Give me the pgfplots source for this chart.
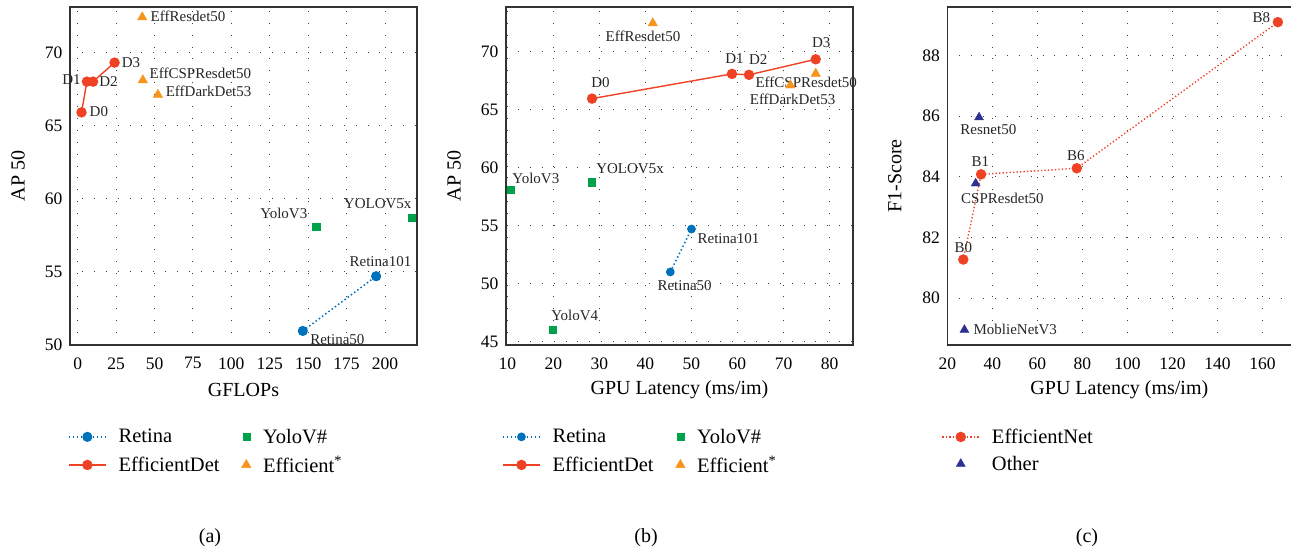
\documentclass[border=0pt]{standalone}
\usepackage{pgfplots}
\pgfplotsset{compat=1.18}
\usepackage{fontspec}
\setmainfont{Liberation Serif}

\definecolor{retinablue}{HTML}{0072BC}
\definecolor{yologreen}{HTML}{00A14B}
\definecolor{detred}{HTML}{EF4123}
\definecolor{efforange}{HTML}{F7941D}
\definecolor{othernavy}{HTML}{2E3192}
\definecolor{framegray}{HTML}{333333}

\newcommand{\tickfont}{\fontsize{17.5}{18}\selectfont}
\newcommand{\labfont}{\fontsize{20}{22}\selectfont}
\newcommand{\ptfont}{\fontsize{15}{16}\selectfont}
\newcommand{\legfont}{\fontsize{20.5}{22}\selectfont}

\tikzset{ptlabel/.style={font=\ptfont, inner sep=0pt, text=black!85}}

\pgfplotsset{
  panel/.style={
    scale only axis, anchor=south west, height=338pt,
    axis line style={draw=framegray, line width=1.1pt},
    major tick length=0pt,
    grid=major,
    grid style={black!75, line width=0.9pt, dash pattern=on 0.9pt off 11pt},
    tick label style={font=\tickfont},
    /pgf/number format/assume math mode=true,
    xticklabel style={yshift=-9pt},
    yticklabel style={xshift=-4pt},
    label style={font=\labfont},
    xlabel style={at={(axis description cs:0.5,-0.133)}, anchor=center},
    ylabel style={at={(axis description cs:-0.15,0.5)}, anchor=center},
    clip=false,
    legend cell align=left,
    legend style={draw=none, fill=none, font=\legfont, inner sep=0pt,
      anchor=north west, row sep=9pt,
      nodes={inner xsep=12pt, inner ysep=1pt},
      /tikz/every even column/.append style={column sep=10pt}},
  },
  wide legend/.style={legend image code/.code={\draw[mark repeat=2,mark phase=2,##1] plot coordinates {(0pt,0pt) (18.5pt,0pt) (37pt,0pt)};}},
  narrow legend/.style={legend image code/.code={\draw[mark repeat=2,mark phase=2,##1] plot coordinates {(0pt,0pt) (6pt,0pt) (12pt,0pt)};}},
}

\begin{document}
\begin{tikzpicture}
\path[use as bounding box] (0pt,0pt) rectangle (1291pt,552pt);

% (a) AP50 against GFLOPs
\begin{axis}[panel, at={(70pt,207pt)}, width=347pt,
  xmin=-5, xmax=220.8, ymin=50, ymax=73.1,
  xtick={0,25,...,200}, ytick={50,55,...,70},
  xlabel={GFLOPs}, ylabel={AP 50},
  legend columns=2,
  legend style={at={(axis description cs:-0.006,-0.245)}}]
\addplot[wide legend, retinablue, line width=1.5pt, dash pattern=on 1.5pt off 2.5pt,
  mark=*, mark size=4.3pt, mark options={solid}]
  coordinates {(146.5,50.96) (194.2,54.7)};
\addlegendentry{Retina}
\addplot[narrow legend, only marks, yologreen, mark=square*, mark size=3.6pt]
  coordinates {(155.2,58.07) (217.5,58.7)};
\addlegendentry{YoloV\#}
\addplot[wide legend, detred, line width=1.4pt, mark=*, mark size=4.5pt]
  coordinates {(2.5,65.9) (6,68) (10,68) (24,69.3)};
\addlegendentry{EfficientDet}
\addplot[narrow legend, only marks, efforange, mark=triangle*, mark size=5.5pt]
  coordinates {(42,72.4) (42.4,68.1) (52.2,67.1)};
\addlegendentry{Efficient\textsuperscript{*}}
\node[ptlabel, anchor=west, xshift=8pt, yshift=1pt] at (axis cs:2.5,65.9) {D0};
\node[ptlabel, anchor=east, xshift=-6pt, yshift=1.7pt] at (axis cs:6,68) {D1};
\node[ptlabel, anchor=west, xshift=6pt] at (axis cs:10,68) {D2};
\node[ptlabel, anchor=west, xshift=7pt] at (axis cs:24,69.3) {D3};
\node[ptlabel, anchor=west, xshift=8.3pt, yshift=1pt] at (axis cs:42,72.4) {EffResdet50};
\node[ptlabel, anchor=west, xshift=6.7pt, yshift=7.3pt] at (axis cs:42.4,68.1) {EffCSPResdet50};
\node[ptlabel, anchor=west, xshift=7.7pt, yshift=3.3pt] at (axis cs:52.2,67.1) {EffDarkDet53};
\node[ptlabel, anchor=east, xshift=-8.7pt, yshift=13.3pt] at (axis cs:155.2,58.07) {YoloV3};
\node[ptlabel, anchor=east, xshift=-0.3pt, yshift=14pt] at (axis cs:217.5,58.7) {YOLOV5x};
\node[ptlabel, xshift=4.3pt, yshift=14.4pt] at (axis cs:194.2,54.7) {Retina101};
\node[ptlabel, anchor=west, xshift=7.3pt, yshift=-8.3pt] at (axis cs:146.5,50.96) {Retina50};
\end{axis}

% (b) AP50 against GPU latency
\begin{axis}[panel, at={(506pt,207pt)}, width=347pt,
  xmin=9.7, xmax=85.1, ymin=44.7, ymax=73.85,
  xtick={10,20,...,80}, ytick={45,50,...,70},
  xlabel={GPU Latency (ms/im)}, ylabel={AP 50},
  legend columns=2,
  legend style={at={(axis description cs:-0.0115,-0.245)}}]
\addplot[wide legend, retinablue, line width=1.5pt, dash pattern=on 1.5pt off 2.5pt,
  mark=*, mark size=3.6pt, mark options={solid}]
  coordinates {(45.4,51.0) (50,54.7)};
\addlegendentry{Retina}
\addplot[narrow legend, only marks, yologreen, mark=square*, mark size=3.6pt]
  coordinates {(10.8,58.1) (28.4,58.74) (19.9,46.03)};
\addlegendentry{YoloV\#}
\addplot[wide legend, detred, line width=1.4pt, mark=*, mark size=4.5pt]
  coordinates {(28.4,65.95) (58.8,68.08) (62.5,68) (77,69.34)};
\addlegendentry{EfficientDet}
\addplot[narrow legend, only marks, efforange, mark=triangle*, mark size=5.5pt]
  coordinates {(41.6,72.45) (77,68.1) (71.5,67.1)};
\addlegendentry{Efficient\textsuperscript{*}}
\node[ptlabel, xshift=-9.8pt, yshift=-13.4pt] at (axis cs:41.6,72.45) {EffResdet50};
\node[ptlabel, xshift=8.5pt, yshift=16pt] at (axis cs:28.4,65.95) {D0};
\node[ptlabel, xshift=2.5pt, yshift=15.7pt] at (axis cs:58.8,68.08) {D1};
\node[ptlabel, xshift=9.3pt, yshift=15.7pt] at (axis cs:62.5,68) {D2};
\node[ptlabel, xshift=5.6pt, yshift=16.6pt] at (axis cs:77,69.34) {D3};
\node[ptlabel, xshift=-9.5pt, yshift=-8.4pt] at (axis cs:77,68.1) {EffCSPResdet50};
\node[ptlabel, xshift=2.2pt, yshift=-14.3pt] at (axis cs:71.5,67.1) {EffDarkDet53};
\node[ptlabel, xshift=24.8pt, yshift=11pt] at (axis cs:10.8,58.1) {YoloV3};
\node[ptlabel, xshift=38pt, yshift=13.3pt] at (axis cs:28.4,58.74) {YOLOV5x};
\node[ptlabel, xshift=21.8pt, yshift=14pt] at (axis cs:19.9,46.03) {YoloV4};
\node[ptlabel, xshift=37pt, yshift=-10pt] at (axis cs:50,54.7) {Retina101};
\node[ptlabel, xshift=14.3pt, yshift=-13.7pt] at (axis cs:45.4,51.0) {Retina50};
\end{axis}

% (c) F1-score against GPU latency
\begin{axis}[panel, at={(947.3pt,207pt)}, width=349pt,
  xmin=20, xmax=175, ymin=78.45, ymax=89.6,
  xtick={20,40,...,160}, ytick={80,82,...,88},
  xlabel={GPU Latency (ms/im)}, ylabel={F1-Score},
  xlabel style={at={(axis description cs:0.493,-0.133)}},
  legend columns=1,
  legend style={at={(axis description cs:-0.017,-0.245)}}]
\addplot[wide legend, detred, line width=1.4pt, dash pattern=on 1.3pt off 2.2pt,
  mark=*, mark size=4.5pt, mark options={solid}]
  coordinates {(27.1,81.27) (35,84.08) (77.5,84.28) (166.8,89.1)};
\addlegendentry{EfficientNet}
\addplot[wide legend, only marks, othernavy, mark=triangle*, mark size=5.2pt]
  coordinates {(34.1,85.96) (32.6,83.78) (27.6,78.95)};
\addlegendentry{Other}
\node[ptlabel, xshift=-16.4pt, yshift=5pt] at (axis cs:166.8,89.1) {B8};
\node[ptlabel, xshift=9.3pt, yshift=-12.4pt] at (axis cs:34.1,85.96) {Resnet50};
\node[ptlabel, xshift=-0.7pt, yshift=12.7pt] at (axis cs:35,84.08) {B1};
\node[ptlabel, xshift=-1pt, yshift=13pt] at (axis cs:77.5,84.28) {B6};
\node[ptlabel, xshift=26.8pt, yshift=-15pt] at (axis cs:32.6,83.78) {CSPResdet50};
\node[ptlabel, yshift=11.7pt] at (axis cs:27.1,81.27) {B0};
\node[ptlabel, anchor=west, xshift=9pt] at (axis cs:27.6,78.95) {MoblieNetV3};
\end{axis}

\node[font=\labfont] at (210pt,14pt) {(a)};
\node[font=\labfont] at (646pt,14pt) {(b)};
\node[font=\labfont] at (1087pt,14pt) {(c)};
\end{tikzpicture}
\end{document}
